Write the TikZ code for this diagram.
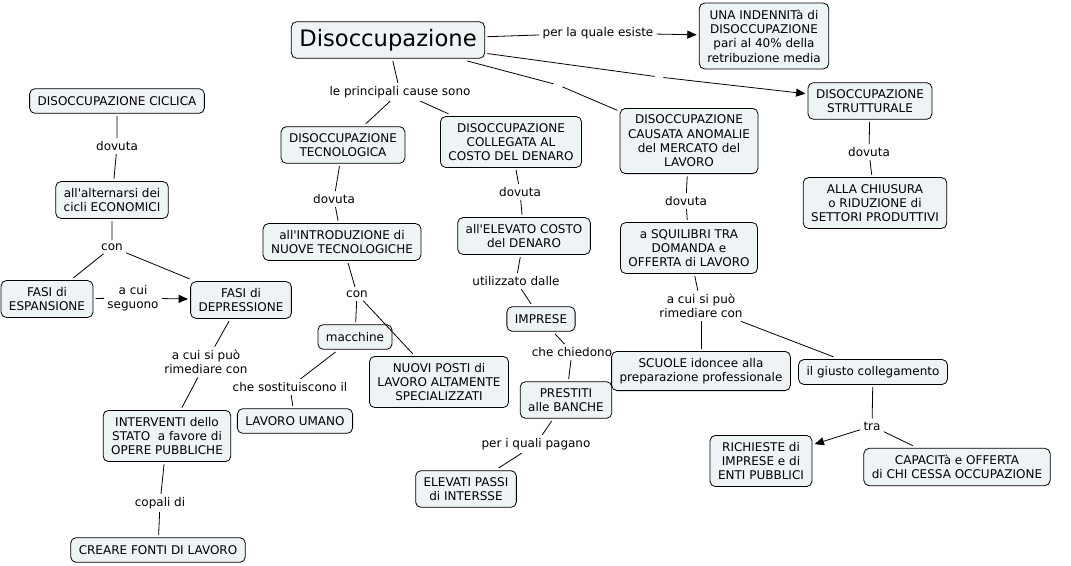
\documentclass[tikz,border=0pt]{standalone}
\usepackage{fontspec}
\setmainfont{DejaVu Sans}
\usetikzlibrary{arrows.meta}
\definecolor{boxfill}{RGB}{238,243,245}
\newcommand{\ap}{\textquotesingle}

\begin{document}
\begin{tikzpicture}[x=0.75pt, y=-0.75pt,
    font=\fontsize{9}{10.7}\selectfont,
    box/.style={draw, rounded corners=4pt, fill=boxfill, align=center,
      inner xsep=6pt, inner ysep=5pt, minimum height=18.5pt, outer sep=2pt, line width=0.6pt},
    lbl/.style={align=center, inner sep=1.5pt, outer sep=1pt},
    gap/.style={inner sep=3pt},
    >={Triangle[length=7pt, width=6pt]}, line width=0.6pt]
    \useasboundingbox (0,0) rectangle (1071,565);

    % nodo centrale
    \node[box, font=\fontsize{17}{20}\selectfont, inner ysep=5.5pt] (root) at (388,40) {Disoccupazione};

    % indennita
    \node[lbl] (esiste) at (598,33) {per la quale esiste};
    \node[box] (indenn) at (764,36) {UNA INDENNITà di\\DISOCCUPAZIONE\\pari al 40\% della\\retribuzione media};
    \draw (root) -- (esiste);
    \draw[->] (esiste) -- (indenn);

    % cause
    \node[lbl] (cause) at (400,92) {le principali cause sono};
    \node[box] (tecn) at (343,145) {DISOCCUPAZIONE\\TECNOLOGICA};
    \node[box] (coll) at (511,142) {DISOCCUPAZIONE\\COLLEGATA AL\\COSTO DEL DENARO};
    \draw (root) -- (cause);
    \draw (cause) -- (tecn);
    \draw (cause) -- (coll);

    \node[gap] (vuoto1) at (558,85) {};
    \node[gap] (vuoto2) at (659,77) {};
    \node[box] (anom) at (689,141) {DISOCCUPAZIONE\\CAUSATA ANOMALIE\\del MERCATO del\\LAVORO};
    \node[box] (strutt) at (870,101) {DISOCCUPAZIONE\\STRUTTURALE};
    \draw (root) -- (vuoto1) -- (anom);
    \draw (root) -- (vuoto2);
    \draw[->] (vuoto2) -- (strutt);

    % disoccupazione ciclica
    \node[box] (ciclica) at (117,101) {DISOCCUPAZIONE CICLICA};
    \node[lbl] (dov1) at (117,146) {dovuta};
    \node[box] (altern) at (112,200) {all\ap alternarsi dei\\cicli ECONOMICI};
    \node[lbl] (con1) at (112,247) {con};
    \node[box] (espans) at (47,299) {FASI di\\ESPANSIONE};
    \node[lbl] (seguono) at (133,298) {a cui\\seguono};
    \node[box] (depr) at (241,300) {FASI di\\DEPRESSIONE};
    \node[lbl] (rimed1) at (206,362) {a cui si può\\rimediare con};
    \node[box] (interv) at (167,436) {INTERVENTI dello\\STATO \ a favore di\\OPERE PUBBLICHE};
    \node[lbl] (copali) at (160,503) {copali di};
    \node[box] (creare) at (158,550) {CREARE FONTI DI LAVORO};
    \draw (ciclica) -- (dov1) -- (altern) -- (con1);
    \draw (con1) -- (espans);
    \draw (con1) -- (depr);
    \draw (espans) -- (seguono);
    \draw[->] (seguono) -- (depr);
    \draw (depr) -- (rimed1) -- (interv) -- (copali) -- (creare);

    % ramo tecnologico
    \node[lbl] (dov2) at (334,199) {dovuta};
    \node[box] (intro) at (342,242) {all\ap INTRODUZIONE di\\NUOVE TECNOLOGICHE};
    \node[lbl] (con2) at (357,294) {con};
    \node[box] (macch) at (355,337) {macchine};
    \node[box] (nuovi) at (439,382) {NUOVI POSTI di\\LAVORO ALTAMENTE\\SPECIALIZZATI};
    \node[lbl] (sostit) at (290,387) {che sostituiscono il};
    \node[box] (umano) at (295,421) {LAVORO UMANO};
    \draw (tecn) -- (dov2) -- (intro) -- (con2);
    \draw (con2) -- (macch);
    \draw (con2) -- (nuovi);
    \draw (macch) -- (sostit) -- (umano);

    % ramo costo del denaro
    \node[lbl] (dov3) at (520,192) {dovuta};
    \node[box] (elev) at (524,236) {all\ap ELEVATO COSTO\\del DENARO};
    \node[lbl] (utiliz) at (516,281) {utilizzato dalle};
    \node[box] (impr) at (541,319) {IMPRESE};
    \node[lbl] (chied) at (572,352) {che chiedono};
    \node[box] (prest) at (566,400) {PRESTITI\\alle BANCHE};
    \node[lbl] (pagano) at (536,444) {per i quali pagano};
    \node[box] (passi) at (466,489) {ELEVATI PASSI\\di INTERSSE};
    \draw (coll) -- (dov3) -- (elev) -- (utiliz) -- (impr) -- (chied) -- (prest) -- (pagano) -- (passi);

    % ramo mercato del lavoro
    \node[lbl] (dov4) at (686,201) {dovuta};
    \node[box] (squil) at (689,248) {a SQUILIBRI TRA\\DOMANDA e\\OFFERTA di LAVORO};
    \node[lbl] (rimed2) at (701,306) {a cui si può\\rimediare con};
    \node[box] (scuole) at (701,371) {SCUOLE idoncee alla\\preparazione professionale};
    \node[box] (giusto) at (873,372) {il giusto collegamento};
    \node[lbl] (tra) at (872,426) {tra};
    \node[box] (richies) at (761,461) {RICHIESTE di\\IMPRESE e di\\ENTI PUBBLICI};
    \node[box] (capac) at (957,467) {CAPACITà e OFFERTA\\di CHI CESSA OCCUPAZIONE};
    \draw (anom) -- (dov4) -- (squil) -- (rimed2);
    \draw (rimed2) -- (scuole);
    \draw (rimed2) -- (giusto);
    \draw (giusto) -- (tra);
    \draw[->] (tra) -- (richies);
    \draw (tra) -- (capac);

    % ramo strutturale
    \node[lbl] (dov5) at (869,152) {dovuta};
    \node[box] (chius) at (875,203) {ALLA CHIUSURA\\o RIDUZIONE di\\SETTORI PRODUTTIVI};
    \draw (strutt) -- (dov5) -- (chius);
\end{tikzpicture}
\end{document}
